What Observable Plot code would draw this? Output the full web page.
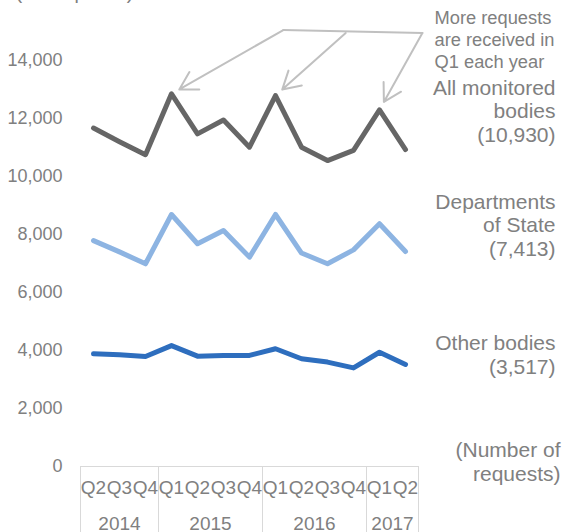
<!DOCTYPE html>
<html>
<head>
<meta charset="utf-8">
<script src="https://cdn.jsdelivr.net/npm/d3@7"></script>
<script src="https://cdn.jsdelivr.net/npm/@observablehq/plot@0.6"></script>
<style>
  html, body { margin: 0; padding: 0; background: #fff; }
  #chart { width: 563px; height: 532px; overflow: hidden; }
</style>
</head>
<body>
<div id="chart"></div>
<script>
// ---- data ----
const quarters = ["Q2","Q3","Q4","Q1","Q2","Q3","Q4","Q1","Q2","Q3","Q4","Q1","Q2"];
const years    = ["2014","2014","2014","2015","2015","2015","2015","2016","2016","2016","2016","2017","2017"];
const allBodies   = [11670, 11200, 10750, 12850, 11470, 11950, 11010, 12790, 11010, 10550, 10900, 12300, 10930];
const departments = [7790, 7400, 6990, 8690, 7680, 8140, 7220, 8690, 7360, 6990, 7470, 8370, 7413];
const otherBodies = [3885, 3850, 3795, 4170, 3805, 3830, 3830, 4060, 3715, 3600, 3400, 3940, 3517];
const seriesNames = ["All monitored\nbodies\n(10,930)", "Departments\nof State\n(7,413)", "Other bodies\n(3,517)"];
const yTicks = [0, 2000, 4000, 6000, 8000, 10000, 12000, 14000];
const annotationText = "More requests\nare received in\nQ1 each year";
const unitText = "(Number of\nrequests)";
const topText = "(All requests)";

// ---- styles ----
const colors = ["#666666", "#8DB4E2", "#2E6EBE"];
const labelDy = [-39, -27, -10];
const gray = "#808080";
const font = "Liberation Sans, Arial, sans-serif";

const seriesValues = [allBodies, departments, otherBodies];
const n = quarters.length;
const idx = d3.range(n);

// year groups
const groups = [];
years.forEach((y, i) => {
  const g = groups[groups.length - 1];
  if (g && g.year === y) g.end = i; else groups.push({year: y, start: i, end: i});
});
const dividers = [groups[0].start - 0.5, ...groups.map(g => g.end + 0.5)];

// annotation: arrows from callout line to Q1 peaks of all bodies
const q1 = idx.filter(i => quarters[i] === "Q1");
const calloutY = 15050;
const calloutStarts = [7.3, 9.7, 12.65];
const arrows = q1.map((i, k) => ({x1: calloutStarts[k], y1: calloutY - (k ? 100 : 0), x2: i, y2: allBodies[i]}));
const calloutLine = [{x: calloutStarts[0], y: calloutY}, {x: calloutStarts[2], y: calloutY - 100}];

const chart = Plot.plot({
  width: 563,
  height: 532,
  marginLeft: 80,
  marginRight: 145,
  marginTop: 60,
  marginBottom: 66,
  style: {fontFamily: font, color: gray, background: "#fff", overflow: "visible"},
  x: {type: "linear", domain: [-0.5, n - 0.5], axis: null},
  y: {domain: [0, 14000], axis: null},
  marks: [
    // y axis labels
    Plot.axisY({ticks: yTicks, tickSize: 0, tickPadding: 18, tickFormat: d3.format(","), fontSize: 18, fill: gray, label: null}),
    // category box
    Plot.ruleY([0], {stroke: "#d9d9d9", strokeWidth: 1}),
    Plot.axisX(dividers, {tickSize: 66, tickFormat: () => "", stroke: "#d9d9d9", label: null}),
    Plot.text(idx, {x: d => d, text: d => quarters[d], frameAnchor: "bottom", dy: 27, fontSize: 19, fill: gray}),
    Plot.text(groups, {x: g => (g.start + g.end) / 2, text: "year", frameAnchor: "bottom", dy: 63, fontSize: 19, fill: gray}),
    // lines
    ...seriesValues.map((vals, s) => Plot.line(idx, {
      x: d => d, y: d => vals[d], stroke: colors[s], strokeWidth: 5,
      strokeLinejoin: "round", strokeLinecap: "round"
    })),
    // series labels
    ...seriesValues.map((vals, s) => Plot.text([n - 1], {
      x: d => d, y: d => vals[d], text: () => seriesNames[s], textAnchor: "end",
      dx: 150, dy: labelDy[s], fontSize: 21, lineHeight: 1.12, fill: gray
    })),
    // callout
    Plot.line(calloutLine, {x: "x", y: "y", stroke: "#c0c0c0", strokeWidth: 2}),
    Plot.arrow(arrows, {x1: "x1", y1: "y1", x2: "x2", y2: "y2", stroke: "#c0c0c0", strokeWidth: 2,
      headLength: 15, headAngle: 60, insetEnd: 9}),
    Plot.text([annotationText], {text: d => d, frameAnchor: "top-right", textAnchor: "start", dx: 16, dy: -52,
      fontSize: 18.3, lineHeight: 1.2, fill: gray}),
    Plot.text([unitText], {text: d => d, frameAnchor: "bottom-right", textAnchor: "end", dx: 142, dy: 14,
      fontSize: 21, lineHeight: 1.12, fill: gray}),
    Plot.text([topText], {text: d => d, frameAnchor: "top-left", textAnchor: "start", dx: -65, dy: -76,
      fontSize: 20, fill: gray})
  ]
});
document.getElementById("chart").appendChild(chart);
</script>
</body>
</html>
